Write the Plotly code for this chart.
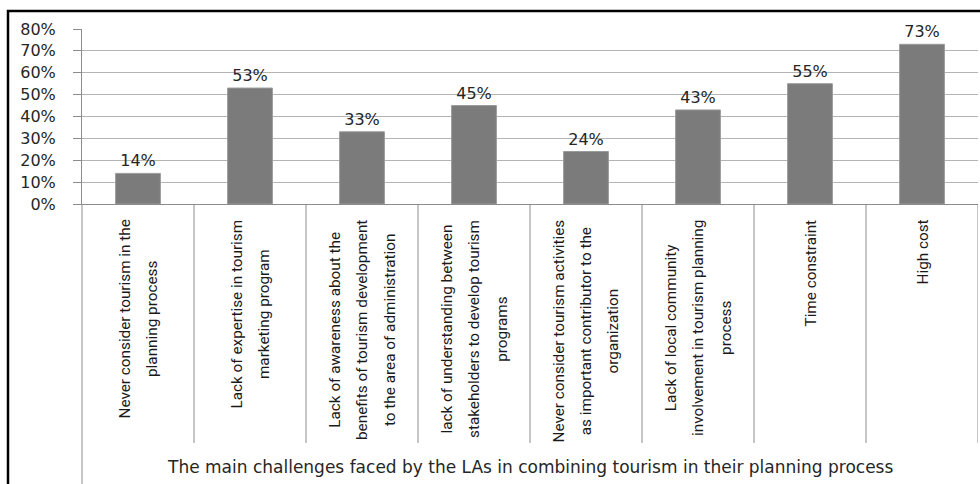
import plotly.graph_objects as go

# Survey results: share of LAs reporting each challenge
challenge_lines = [
    ["Never consider tourism in the", "planning process"],
    ["Lack of expertise in tourism", "marketing program"],
    ["Lack of awareness about the", "benefits of tourism development", "to the area of administration"],
    ["lack of understanding between", "stakeholders to develop tourism", "programs"],
    ["Never consider tourism activities", "as important contributor to the", "organization"],
    ["Lack of local community", "involvement in tourism planning", "process"],
    ["Time constraint"],
    ["High cost"],
]
shares = [0.14, 0.53, 0.33, 0.45, 0.24, 0.43, 0.55, 0.73]
y_ticks = [0.0, 0.1, 0.2, 0.3, 0.4, 0.5, 0.6, 0.7, 0.8]
x_title = "The main challenges faced by the LAs in combining tourism in their planning process"

positions = list(range(len(shares)))

W, H = 980, 484
L, R, T, B = 82, 2, 29, 280
plot_w = W - L - R
plot_h = H - T - B


def px_to_paper_x(px):
    return (px - L) / plot_w


def px_to_paper_y(py):
    return (H - B - py) / plot_h


label_font = dict(family="DejaVu Sans, Verdana, sans-serif", size=16, color="#262626")
# outer size sets the line pitch, inner span sets the glyph size
cat_font = dict(family="Roboto, sans-serif", size=21, color="#1a1a1a")
cat_glyph_px = 15.3

fig = go.Figure(
    go.Bar(
        x=positions,
        y=shares,
        width=0.4,
        marker=dict(color="#7b7b7b", line=dict(color="#9a9a9a", width=1)),
        texttemplate="%{y:.0%}",
        textposition="outside",
        textfont=label_font,
        cliponaxis=False,
        hoverinfo="skip",
    )
)

shapes = []
# outer frame (top and left edges visible)
shapes.append(dict(type="rect", xref="paper", yref="paper",
                   x0=px_to_paper_x(8), x1=px_to_paper_x(990),
                   y0=px_to_paper_y(500), y1=px_to_paper_y(11),
                   line=dict(color="#000000", width=2.5), fillcolor="rgba(0,0,0,0)", layer="above"))
# value axis line continued down through the category label area
shapes.append(dict(type="line", xref="paper", yref="paper",
                   x0=0, x1=0, y0=0, y1=px_to_paper_y(500),
                   line=dict(color="#8c8c8c", width=1)))
# category separators
for i in positions:
    shapes.append(dict(type="line", xref="x", yref="paper",
                       x0=i + 0.5, x1=i + 0.5, y0=0, y1=px_to_paper_y(443),
                       line=dict(color="#8c8c8c", width=1)))

annotations = []
for i, lines in zip(positions, challenge_lines):
    text = "<br>".join(f'<span style="font-size:{cat_glyph_px}px">{ln}</span>' for ln in lines)
    annotations.append(dict(
        x=i, y=0, xref="x", yref="paper",
        text=text, textangle=-90,
        xanchor="center", yanchor="top", yshift=-14,
        align="center", showarrow=False, font=cat_font,
    ))
annotations.append(dict(
    x=0.5, y=px_to_paper_y(467), xref="paper", yref="paper",
    text=x_title, xanchor="center", yanchor="middle",
    showarrow=False, font=dict(family="DejaVu Sans, Verdana, sans-serif", size=17, color="#262626"),
))

fig.update_layout(
    width=W, height=H,
    margin=dict(l=L, r=R, t=T, b=B, pad=0),
    paper_bgcolor="white", plot_bgcolor="white",
    showlegend=False,
    bargap=0.6,
    shapes=shapes,
    annotations=annotations,
    xaxis=dict(
        range=[-0.5, len(shares) - 0.5],
        showticklabels=False, showgrid=False, zeroline=False,
        showline=True, linecolor="#8c8c8c", linewidth=1, ticks="",
    ),
    yaxis=dict(
        range=[0, 0.8], tickvals=y_ticks, tickformat=".0%",
        showgrid=True, gridcolor="#b4b4b4", gridwidth=1,
        zeroline=False, showline=True, linecolor="#8c8c8c", linewidth=1,
        ticks="outside", ticklen=8, tickcolor="#8c8c8c",
        tickfont=label_font, ticklabelstandoff=14,
    ),
)

fig.write_html("out.html")
